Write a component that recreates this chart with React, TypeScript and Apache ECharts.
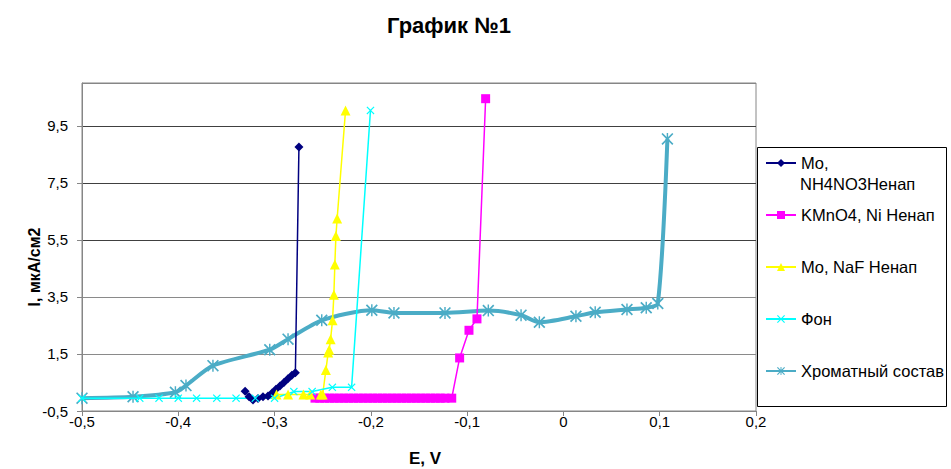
import React, { useEffect, useRef } from "react";
import * as echarts from "echarts";

const FONT = "'Liberation Sans', Arial, sans-serif";

const seriesNames = [
  "Mo, NH4NO3Ненап",
  "KMnO4, Ni Ненап",
  "Mo, NaF Ненап",
  "Фон",
  "Хроматный состав",
];

// Mo, NH4NO3
const moNh4X = [-0.3306, -0.3265, -0.3224, -0.3172, -0.312, -0.3068, -0.3027, -0.2986, -0.2944, -0.2903, -0.2861, -0.282, -0.2784, -0.2747];
const moNh4Y = [0.19, 0.0, -0.11, -0.06, 0.0, 0.03, 0.13, 0.26, 0.38, 0.5, 0.63, 0.75, 0.84, 8.76];

// KMnO4, Ni
const kmnoX = [-0.258, -0.253, -0.248, -0.243, -0.238, -0.233, -0.228, -0.223, -0.218, -0.213, -0.208, -0.203, -0.198, -0.193, -0.188, -0.183, -0.178, -0.173, -0.168, -0.163, -0.158, -0.153, -0.148, -0.143, -0.138, -0.133, -0.128, -0.123, -0.116, -0.1078, -0.0981, -0.0898, -0.0808];
const kmnoY = [-0.05, -0.05, -0.05, -0.05, -0.05, -0.05, -0.05, -0.05, -0.05, -0.05, -0.05, -0.05, -0.05, -0.05, -0.05, -0.05, -0.05, -0.05, -0.05, -0.05, -0.05, -0.05, -0.05, -0.05, -0.05, -0.05, -0.05, -0.05, -0.05, 1.36, 2.33, 2.73, 10.45];

// Mo, NaF
const moNafX = [-0.298, -0.286, -0.27, -0.263, -0.252, -0.25, -0.2467, -0.2443, -0.2433, -0.2418, -0.2398, -0.2384, -0.2374, -0.2363, -0.235, -0.2263];
const moNafY = [0.08, 0.08, 0.08, 0.08, 0.08, 0.08, 0.94, 1.55, 1.65, 2.02, 2.68, 3.58, 4.64, 5.64, 6.25, 10.04];

// Фон
const fonX = [-0.5, -0.44, -0.42, -0.4, -0.381, -0.36, -0.34, -0.32, -0.3, -0.28, -0.261, -0.24, -0.22, -0.2004];
const fonY = [-0.05, -0.05, -0.05, -0.05, -0.05, -0.05, -0.05, -0.05, -0.05, 0.18, 0.18, 0.33, 0.33, 10.04];

// Хроматный состав
const chromX = [-0.5, -0.447, -0.403, -0.392, -0.364, -0.305, -0.286, -0.251, -0.199, -0.176, -0.123, -0.078, -0.044, -0.025, 0.013, 0.033, 0.066, 0.086, 0.098, 0.108];
const chromY = [-0.05, 0.0, 0.16, 0.39, 1.09, 1.65, 2.02, 2.68, 3.03, 2.94, 2.94, 3.02, 2.86, 2.61, 2.82, 2.96, 3.06, 3.12, 3.27, 9.04];

const colors = ["#000080", "#FF00FF", "#FFFF00", "#00FFFF", "#4BACC6"];

const X_PATH = "path://M0,1L1,0L5,4L9,0L10,1L6,5L10,9L9,10L5,6L1,10L0,9L4,5Z";
const STAR_PATH = "path://M0,1L1,0L5,4L9,0L10,1L6,5L10,9L9,10L5,6L1,10L0,9L4,5Z M4.4,0L5.6,0L5.6,10L4.4,10Z";

const zip = (xs: number[], ys: number[]) => xs.map((x, i) => [x, ys[i]]);

const fmt = (v: number) => {
  const r = Math.round(v * 10) / 10;
  return String(r).replace(".", ",");
};

export default function App() {
  const ref = useRef<HTMLDivElement>(null);
  useEffect(() => {
    if (!ref.current) return;
    const chart = echarts.init(ref.current, undefined, { renderer: "svg" });
    const option: any = {
      animation: false,
      backgroundColor: "#fff",
      textStyle: { fontFamily: FONT },
      title: {
        text: "График №1",
        left: 387,
        top: 14,
        padding: 0,
        textStyle: { fontFamily: FONT, fontSize: 22, fontWeight: "bold", color: "#000" },
      },
      grid: {
        left: 82,
        top: 83,
        right: 195,
        bottom: 58,
        show: true,
        borderColor: "#868686",
        borderWidth: 1,
        containLabel: false,
      },
      legend: {
        orient: "vertical",
        left: 765,
        top: 152.5,
        padding: 0,
        itemWidth: 30,
        itemHeight: 10,
        itemGap: 31,
        data: seriesNames,
        formatter: (name: string) => (name === seriesNames[0] ? "Mo," : name),
        textStyle: { fontFamily: FONT, fontSize: 16.5, lineHeight: 21, color: "#000" },
      },
      xAxis: {
        type: "value",
        min: -0.5,
        max: 0.2,
        interval: 0.1,
        axisLine: { onZero: false, lineStyle: { color: "#868686" } },
        axisTick: { show: true, length: 5, lineStyle: { color: "#868686" } },
        axisLabel: { formatter: fmt, color: "#000", fontSize: 15, margin: 3, fontFamily: FONT },
        splitLine: { show: false },
      },
      yAxis: {
        type: "value",
        min: -0.5,
        max: 11,
        interval: 2,
        axisLine: { show: true, onZero: false, lineStyle: { color: "#868686" } },
        axisTick: { show: true, length: 5, lineStyle: { color: "#868686" } },
        axisLabel: {
          formatter: (v: number) => String(v).replace(".", ","),
          color: "#000",
          fontSize: 15,
          margin: 14,
          showMaxLabel: false,
          fontFamily: FONT,
        },
        splitLine: {
          show: true,
          lineStyle: {
            color: ["#868686", "#8a8a8a", "#8a8a8a", "#404040", "#404040", "#404040", "#868686"],
            width: 1,
          },
        },
      },
      graphic: [
        {
          type: "rect",
          shape: { x: 757.5, y: 147.5, width: 189, height: 259 },
          style: { fill: "none", stroke: "#000", lineWidth: 1 },
          z: 10,
        },
        {
          type: "text",
          x: 800,
          y: 184,
          style: {
            text: "NH4NO3Ненап",
            fontFamily: FONT,
            fontSize: 16.5,
            fill: "#000",
            verticalAlign: "middle",
          },
          z: 10,
        },
        {
          type: "text",
          x: 425,
          y: 458,
          style: {
            text: "E, V",
            fontFamily: FONT,
            fontSize: 17,
            fontWeight: "bold",
            fill: "#000",
            align: "center",
            verticalAlign: "middle",
          },
        },
        {
          type: "text",
          x: 34,
          y: 267,
          rotation: Math.PI / 2,
          style: {
            text: "I, мкА/см2",
            fontFamily: FONT,
            fontSize: 16,
            fontWeight: "bold",
            fill: "#000",
            align: "center",
            verticalAlign: "middle",
          },
        },
      ],
      series: [
        {
          name: seriesNames[0],
          type: "line",
          data: zip(moNh4X, moNh4Y),
          symbol: "diamond",
          symbolSize: 9,
          lineStyle: { color: colors[0], width: 1.5 },
          itemStyle: { color: colors[0] },
          z: 2,
        },
        {
          name: seriesNames[1],
          type: "line",
          data: zip(kmnoX, kmnoY),
          symbol: "rect",
          symbolSize: 9,
          lineStyle: { color: colors[1], width: 1.5 },
          itemStyle: { color: colors[1] },
          z: 2,
        },
        {
          name: seriesNames[2],
          type: "line",
          data: zip(moNafX, moNafY),
          symbol: "triangle",
          symbolSize: 10,
          lineStyle: { color: colors[2], width: 1.5 },
          itemStyle: { color: colors[2] },
          z: 2,
        },
        {
          name: seriesNames[3],
          type: "line",
          data: zip(fonX, fonY),
          symbol: X_PATH,
          symbolSize: 8,
          lineStyle: { color: colors[3], width: 1.5 },
          itemStyle: { color: colors[3] },
          z: 2,
        },
        {
          name: seriesNames[4],
          type: "line",
          data: zip(chromX, chromY),
          symbol: STAR_PATH,
          symbolSize: 12,
          smooth: 0.25,
          lineStyle: { color: colors[4], width: 4 },
          itemStyle: { color: colors[4] },
          z: 1,
        },
      ],
    };
    chart.setOption(option);
    return () => chart.dispose();
  }, []);
  return (
    <div
      ref={ref}
      style={{ position: "fixed", left: 0, top: 0, width: 951, height: 469, background: "#fff" }}
    />
  );
}
